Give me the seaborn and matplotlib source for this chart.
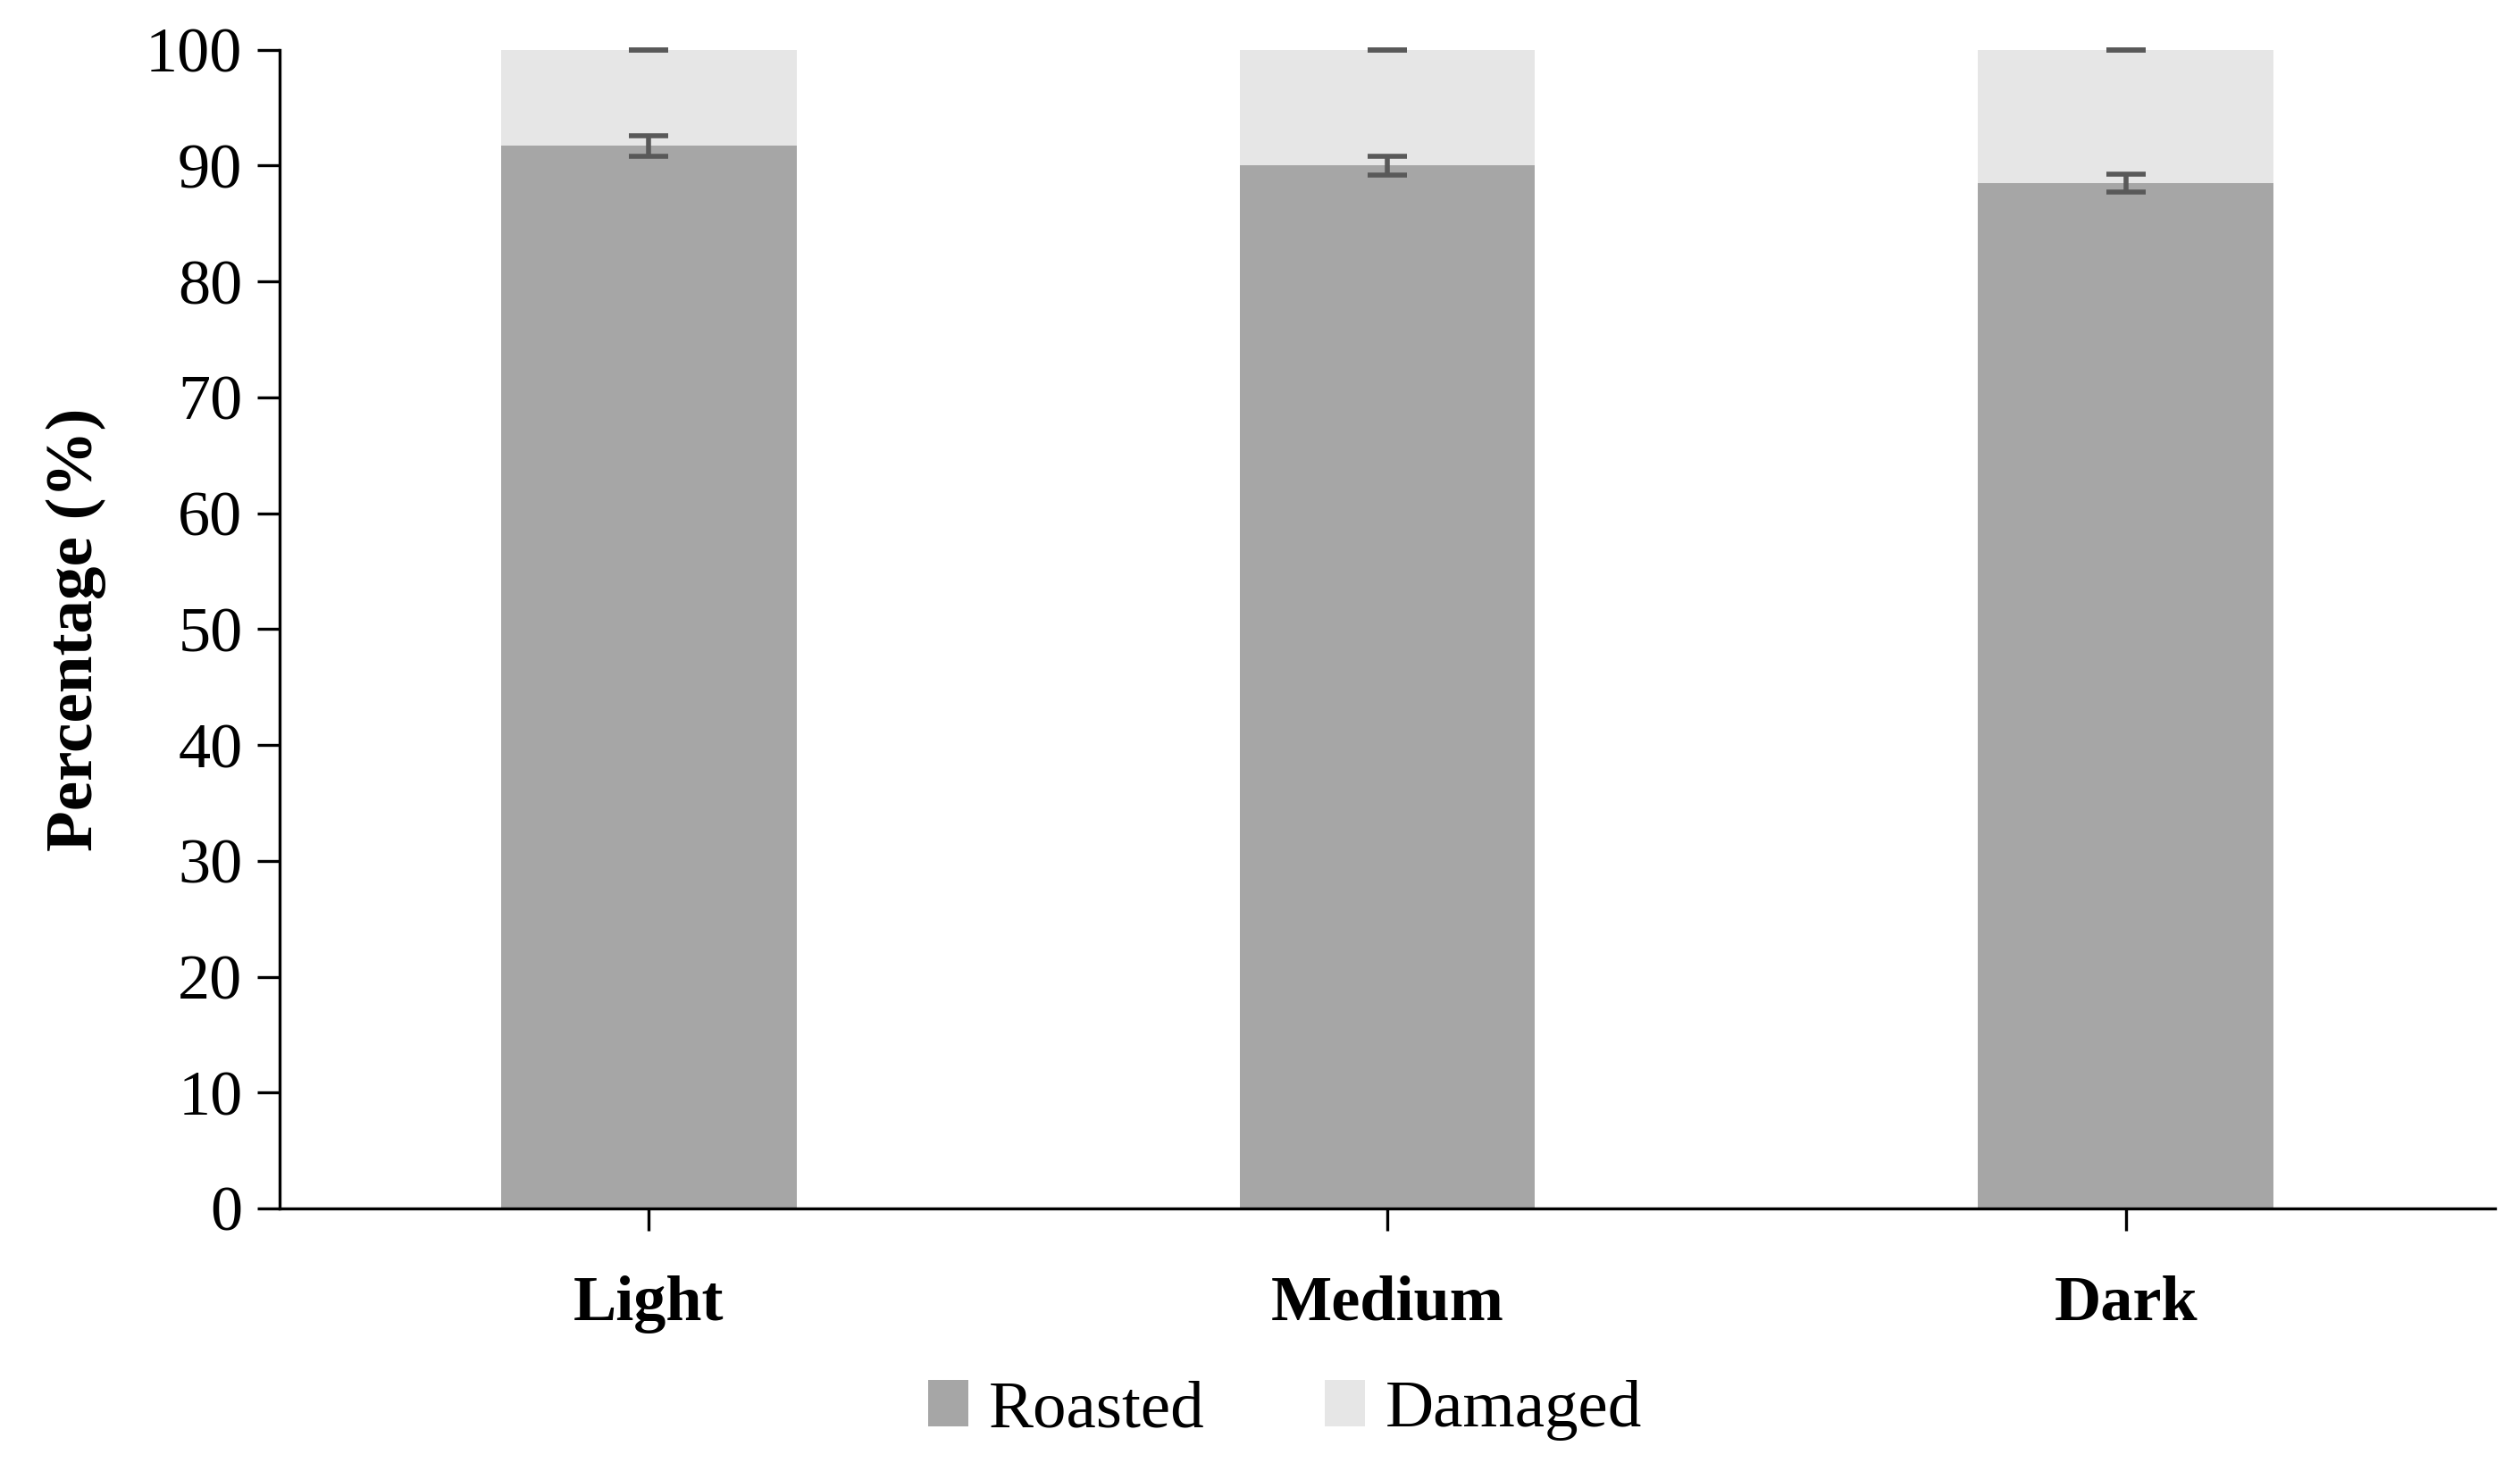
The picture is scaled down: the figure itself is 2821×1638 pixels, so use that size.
import matplotlib
matplotlib.use("Agg")
import numpy as np
import pandas as pd
import seaborn as sns
from matplotlib import pyplot as plt
from matplotlib.patches import Patch

# values
categories = ["Light", "Medium", "Dark"]
roasted = [91.7, 90.0, 88.5]
roasted_err = [0.9, 0.8, 0.8]
damaged = [8.3, 10.0, 11.5]
damaged_err = [0.0, 0.0, 0.0]
series_names = ["Roasted", "Damaged"]
yticks = list(range(0, 101, 10))

roasted_col = "#a6a6a6"
damaged_col = "#e6e6e6"
err_col = "#595959"

sns.set_style("white")
plt.rcParams["font.family"] = ["Liberation Serif", "DejaVu Serif"]
plt.rcParams["text.color"] = "black"
plt.rcParams["xtick.color"] = "black"
plt.rcParams["ytick.color"] = "black"
plt.rcParams["axes.labelcolor"] = "black"

df = pd.DataFrame({"cat": categories, "roasted": roasted, "damaged": damaged})
df["total"] = df["roasted"] + df["damaged"]

fig = plt.figure(figsize=(14.105, 8.19), dpi=200)
ax = fig.add_axes([0.111, 0.174, 0.879, 0.792])

# stacked: full-height damaged bar, roasted drawn over it
sns.barplot(data=df, x="cat", y="total", color=damaged_col, saturation=1,
            width=0.4, ax=ax, linewidth=0)
sns.barplot(data=df, x="cat", y="roasted", color=roasted_col, saturation=1,
            width=0.4, ax=ax, linewidth=0)

xs = np.arange(len(categories))
ax.errorbar(xs, df["roasted"], yerr=roasted_err, fmt="none", ecolor=err_col,
            elinewidth=2, capsize=8, capthick=2, zorder=5)
ax.errorbar(xs, df["total"], yerr=damaged_err, fmt="none", ecolor=err_col,
            elinewidth=2, capsize=8, capthick=2, zorder=5, clip_on=False)

ax.set_xlim(-0.5, 2.5)
ax.set_ylim(0, 100)
ax.set_yticks(yticks)
ax.set_xlabel("")
ax.set_ylabel("Percentage (%)", fontsize=27, fontweight="bold", labelpad=16)
ax.tick_params(axis="y", labelsize=26, length=9, width=1.2, direction="out",
               left=True, pad=6)
ax.tick_params(axis="x", labelsize=26, length=9, width=1.2, direction="out",
               bottom=True, pad=18)
for lab in ax.get_xticklabels():
    lab.set_fontweight("bold")

for s in ["top", "right"]:
    ax.spines[s].set_visible(False)
for s in ["left", "bottom"]:
    ax.spines[s].set_color("black")
    ax.spines[s].set_linewidth(1.2)

handles = [Patch(facecolor=roasted_col, edgecolor="none"),
           Patch(facecolor=damaged_col, edgecolor="none")]
fig.legend(handles, series_names, loc="center", bbox_to_anchor=(0.51, 0.036),
           ncol=2, frameon=False, fontsize=27, handlelength=0.6,
           handleheight=0.7, handletextpad=0.3, columnspacing=1.8)

fig.savefig("out.png", dpi=200)
